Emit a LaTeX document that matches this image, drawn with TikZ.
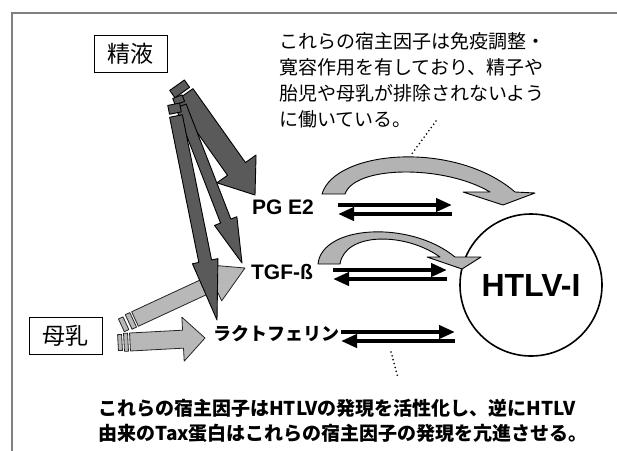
\documentclass[tikz,border=0pt]{standalone}
\usepackage{fontspec}
\setmainfont{Noto Sans CJK JP}
\newfontfamily\arialf{Liberation Sans}
\usetikzlibrary{calc,arrows.meta}
\definecolor{semgray}{HTML}{5A5A5A}
\definecolor{milkgray}{HTML}{B8B8B8}
\definecolor{curvegray}{HTML}{B3B3B3}
\definecolor{framegray}{HTML}{808080}
\newcommand{\blockarrow}[6]{%
  \path[#1] ($#2!#4!90:#3$) -- ($($#3!#6!#2$)!#4!90:#3$) -- ($($#3!#6!#2$)!#5!90:#3$) -- #3
   -- ($($#3!#6!#2$)!#5!-90:#3$) -- ($($#3!#6!#2$)!#4!-90:#3$) -- ($#2!#4!-90:#3$) -- cycle;}
\newcommand{\tailstub}[6]{%
  \path[#1] ($($#2!-#4!#3$)!#6!90:#3$) -- ($($#2!-#5!#3$)!#6!90:#3$)
   -- ($($#2!-#5!#3$)!#6!-90:#3$) -- ($($#2!-#4!#3$)!#6!-90:#3$) -- cycle;}
\tikzset{
  frameline/.style={draw=framegray, line width=1.6pt},
  srcbox/.style={draw=black, line width=1pt, minimum width=73pt, minimum height=37pt,
    inner sep=0pt, font=\fontsize{23}{23}\selectfont},
  semenarrow/.style={fill=semgray, draw=black, line width=0.9pt, line join=round},
  milkarrow/.style={fill=milkgray, draw=black!85, line width=0.8pt, line join=round},
  curvearrow/.style={fill=curvegray, draw=black, line width=0.9pt, line join=round},
  factor/.style={font=\arialf\bfseries\fontsize{21}{21}\selectfont, inner sep=0pt},
  exch/.style={line width=4pt, -{Triangle[length=16pt,width=13pt]}},
  note/.style={font=\fontsize{19}{19}\selectfont, inner sep=0pt, anchor=base west},
  boldnote/.style={note, font=\bfseries\fontsize{19}{19}\selectfont},
  dotline/.style={line width=1.8pt, dash pattern=on 0pt off 4pt, line cap=round},
}
\begin{document}
\begin{tikzpicture}[x=1pt,y=-1pt]
\useasboundingbox (0,0) rectangle (617,450);
\fill[white] (0,0) rectangle (617,450);
\draw[frameline] (12,452) -- (12,13) -- (619,13);

% source boxes
\node[srcbox] (semen) at (130.5,53.5) {精液};
\node[srcbox] (milk) at (65.5,336) {母乳};

% factor labels
\node[factor] (pg) at (283,207) {PG E2};
\node[factor] (tgf) at (282,272) {TGF-ß};
\node[inner sep=0pt, font=\bfseries\fontsize{18}{18}\selectfont] (lf) at (276,334) {ラクトフェリン};

% HTLV circle
\node[circle, draw, line width=1.6pt, minimum size=142pt, inner sep=0pt,
      font=\arialf\bfseries\fontsize{32}{32}\selectfont] (htlv) at (531,285) {HTLV-I};

% milk arrows
\coordinate (mAs) at (135,319);
\coordinate (mAt) at (245,268);
\coordinate (mBs) at (130,342);
\coordinate (mBt) at (205,338);
\blockarrow{milkarrow}{(mAs)}{(mAt)}{8pt}{20pt}{35pt}
\tailstub{milkarrow}{(mAs)}{(mAt)}{2pt}{7pt}{8pt}
\tailstub{milkarrow}{(mAs)}{(mAt)}{10pt}{15pt}{7pt}
\blockarrow{milkarrow}{(mBs)}{(mBt)}{9pt}{22pt}{22pt}
\tailstub{milkarrow}{(mBs)}{(mBt)}{2pt}{6pt}{9pt}
\tailstub{milkarrow}{(mBs)}{(mBt)}{8pt}{12pt}{8pt}

% semen arrows
\coordinate (sAs) at (184,95);
\coordinate (sAt) at (255,195);
\coordinate (sBs) at (181,106);
\coordinate (sBt) at (242,263);
\coordinate (sCs) at (176,116);
\coordinate (sCt) at (217,320);
\blockarrow{semenarrow}{(sAs)}{(sAt)}{11pt}{24pt}{32pt}
\tailstub{semenarrow}{(sAs)}{(sAt)}{3pt}{12pt}{9pt}
\blockarrow{semenarrow}{(sBs)}{(sBt)}{5.5pt}{12pt}{45pt}
\tailstub{semenarrow}{(sBs)}{(sBt)}{3pt}{10pt}{5pt}
\blockarrow{semenarrow}{(sCs)}{(sCt)}{6.5pt}{13pt}{60pt}
\tailstub{semenarrow}{(sCs)}{(sCt)}{3pt}{12pt}{6pt}

% exchange arrows
\draw[exch] (338,205) -- (452,205);
\draw[exch] (452,214) -- (338,214);
\draw[exch] (333,270) -- (447,270);
\draw[exch] (447,279) -- (333,279);
\draw[exch] (341,332) -- (455,332);
\draw[exch] (455,341) -- (341,341);

% curved arrows
\path[curvearrow] (322,194) .. controls (335,150) and (455,140) .. (515,192)
  -- (535,193) -- (503,205) -- (463,192) -- (490,192)
  .. controls (445,165) and (355,165) .. (345,194) -- cycle;
\path[curvearrow] (318,264) .. controls (322,225) and (410,220) .. (455,257)
  -- (481,257) -- (462,269) -- (427,257) -- (440,257)
  .. controls (405,232) and (345,232) .. (340,264) -- cycle;

% notes
\node[note] (t1) at (279,48) {これらの宿主因子は免疫調整・};
\node[note] (t2) at (279,74) {寛容作用を有しており、精子や};
\node[note] (t3) at (279,100) {胎児や母乳が排除されないよう};
\node[note] (t4) at (279,126) {に働いている。};
\node[boldnote] (b1) at (98,415) {これらの宿主因子はHTLVの発現を活性化し、逆にHTLV};
\node[boldnote] (b2) at (98,440) {由来のTax蛋白はこれらの宿主因子の発現を亢進させる。};

\coordinate (d1a) at (436,121);
\coordinate (d1b) at (411,155);
\coordinate (d2a) at (391,352);
\coordinate (d2b) at (398,378);
\draw[dotline] (d1a) -- (d1b);
\draw[dotline] (d2a) -- (d2b);
\end{tikzpicture}
\end{document}
